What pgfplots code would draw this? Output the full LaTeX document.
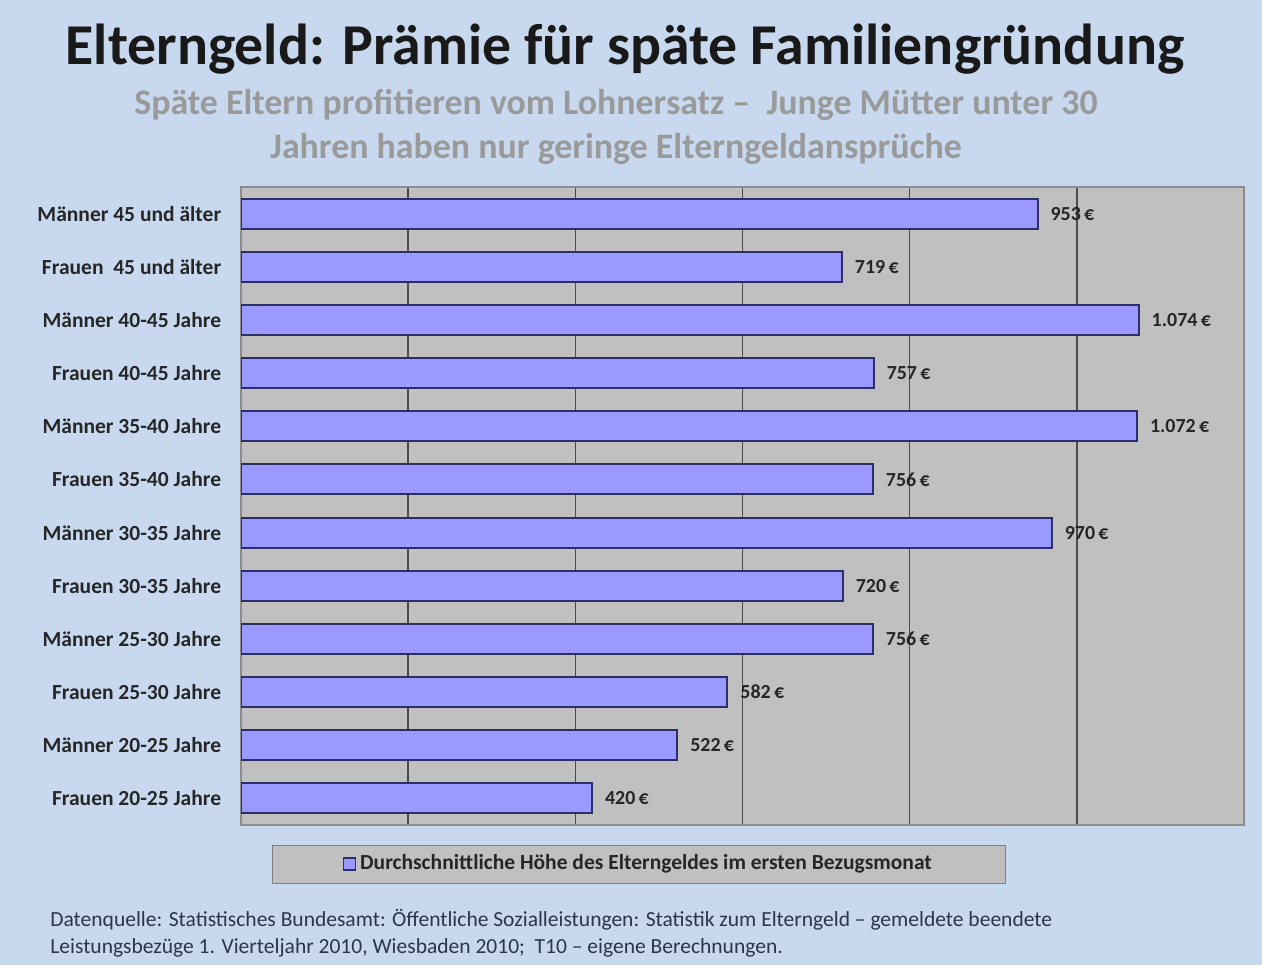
\documentclass[border=0pt]{standalone}
\usepackage{pgfplots}
\pgfplotsset{compat=1.18}
\usepackage{fontspec}
\setmainfont{Carlito}
\definecolor{bgblue}{HTML}{C8D9EF}
\definecolor{plotgray}{HTML}{C0C0C0}
\definecolor{barfill}{HTML}{9999FF}
\definecolor{bardraw}{HTML}{2E2E66}
\definecolor{subgray}{HTML}{9A9A9A}
\definecolor{foot}{HTML}{2A3550}
\begin{document}
\begin{tikzpicture}
\begin{scope}[x=0.5bp,y=0.5bp]
\fill[bgblue] (0,0) rectangle (1262,965);
\node[font=\bfseries\fontsize{29}{33}\selectfont, text=black!90] at (625,916) {Elterngeld: Prämie für späte Familiengründung};
\node[font=\bfseries\fontsize{18}{22.5}\selectfont, text=subgray, align=center] at (616,838) {Späte Eltern profitieren vom Lohnersatz –\ \ Junge Mütter unter 30\\Jahren haben nur geringe Elterngeldansprüche};
\node[font=\fontsize{10.8}{13.5}\selectfont, text=foot, align=left, anchor=north west, inner sep=0pt] at (50,56) {Datenquelle: Statistisches Bundesamt: Öffentliche Sozialleistungen: Statistik zum Elterngeld – gemeldete beendete\\Leistungsbezüge 1. Vierteljahr 2010, Wiesbaden 2010;\ \ T10 – eigene Berechnungen.};
\end{scope}
\begin{axis}[
  at={(120.5bp,70bp)}, anchor=south west,
  scale only axis, width=501.5bp, height=319bp,
  xbar, bar width=15bp,
  xmin=0, xmax=1200, ymin=-0.5, ymax=11.5,
  xtick={0,200,...,1200}, xticklabels={},
  ytick={0,...,11},
  yticklabels={Frauen 20-25 Jahre, Männer 20-25 Jahre, Frauen 25-30 Jahre, Männer 25-30 Jahre, Frauen 30-35 Jahre, Männer 30-35 Jahre, Frauen 35-40 Jahre, Männer 35-40 Jahre, Frauen 40-45 Jahre, Männer 40-45 Jahre, {Frauen\ \ 45 und älter}, Männer 45 und älter},
  xmajorgrids, major grid style={draw=black!70, line width=0.7pt},
  tick style={draw=none},
  axis background/.style={fill=plotgray},
  axis line style={draw=black!45, line width=0.8pt},
  yticklabel style={font=\bfseries\fontsize{10.8}{12}\selectfont, text=black!85, inner sep=0pt, xshift=-5.5bp},
  nodes near coords={\pgfmathprintnumber[fixed, precision=0, 1000 sep={.}, assume math mode=true]{\pgfplotspointmeta}\,€},
  nodes near coords style={font=\bfseries\fontsize{10}{11}\selectfont, text=black!85, anchor=west, inner sep=0pt, xshift=6bp},
  legend style={at={(0.397,-0.061)}, anchor=center, fill=plotgray, draw=black!50, font=\bfseries\fontsize{10.8}{12}\selectfont, inner xsep=35bp, inner ysep=3bp, text=black!85},
  legend image code/.code={\draw[fill=barfill, draw=bardraw, line width=0.8pt] (0bp,-3bp) rectangle (6bp,3bp);},
]
\addplot[fill=barfill, draw=bardraw, line width=1pt] coordinates {
(420,0) (522,1) (582,2) (756,3) (720,4) (970,5) (756,6) (1072,7) (757,8) (1074,9) (719,10) (953,11)};
\addlegendentry{Durchschnittliche Höhe des Elterngeldes im ersten Bezugsmonat}
\end{axis}
\end{tikzpicture}
\end{document}
